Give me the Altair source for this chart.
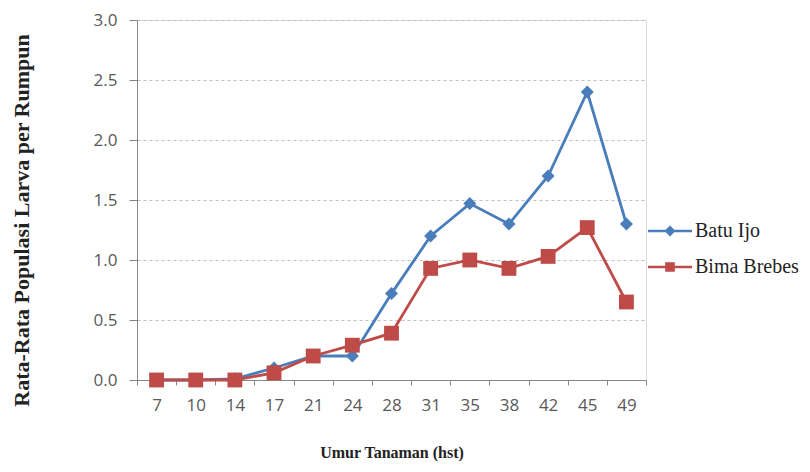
import altair as alt
import pandas as pd

umur = ["7", "10", "14", "17", "21", "24", "28", "31", "35", "38", "42", "45", "49"]
batu_ijo = [0.0, 0.0, 0.01, 0.10, 0.20, 0.20, 0.72, 1.20, 1.47, 1.30, 1.70, 2.40, 1.30]
bima_brebes = [0.0, 0.0, 0.0, 0.06, 0.20, 0.29, 0.39, 0.93, 1.00, 0.93, 1.03, 1.27, 0.65]
series = ["Batu Ijo", "Bima Brebes"]
colors = ["#4A7EBB", "#BE4B48"]
shapes = ["diamond", "square"]
y_ticks = [0, 0.5, 1.0, 1.5, 2.0, 2.5, 3.0]

legend_paths = [
    "M-1,-0.055H1V0.055H-1Z M-0.25,0L0,-0.25L0.25,0L0,0.25Z",
    "M-1,-0.055H1V0.055H-1Z M-0.22,-0.22H0.22V0.22H-0.22Z",
]

x = alt.X(
    "umur:O",
    sort=umur,
    bandPosition=0.5,
    scale=alt.Scale(type="band", paddingInner=0, paddingOuter=0),
    axis=alt.Axis(
        title="Umur Tanaman (hst)",
        labelAngle=0,
        tickBand="extent",
        tickSize=5,
        tickColor="#868686",
        domainColor="#868686",
        labelFont="Open Sans",
        labelFontSize=17,
        labelColor="#595959",
        labelPadding=12,
        titleFont="Liberation Serif",
        titleFontSize=16,
        titleFontWeight="bold",
        titleColor="#222222",
        titlePadding=31,
        grid=False,
    ),
)
y = alt.Y(
    "nilai:Q",
    scale=alt.Scale(domain=[0, 3], nice=False),
    axis=alt.Axis(
        title="Rata-Rata Populasi Larva per Rumpun",
        values=y_ticks,
        format=".1f",
        tickSize=8,
        tickColor="#868686",
        domainColor="#868686",
        labelFont="Open Sans",
        labelFontSize=17,
        labelColor="#595959",
        labelPadding=12,
        titleFont="Liberation Serif",
        titleFontSize=22,
        titleFontWeight="bold",
        titleColor="#222222",
        titleX=-116,
        titleY=200,
        titleAlign="center",
        titleBaseline="middle",
        titleAngle=270,
        grid=True,
        gridColor="#bfbfbf",
        gridDash=[3, 3],
    ),
)

layers = []
legend_y = [189, 225]
for i, name in enumerate(series):
    vals = batu_ijo if i == 0 else bima_brebes
    df = pd.DataFrame({"umur": umur, "nilai": vals, "seri": name})
    line = alt.Chart(df).mark_line(color=colors[i], strokeWidth=2.8).encode(x=x, y=y)
    pts = alt.Chart(df).mark_point(
        shape=shapes[i], filled=True, opacity=1, size=170 if i == 0 else 220
    ).encode(
        x=x,
        y=y,
        color=alt.Color(
            "seri:N",
            scale=alt.Scale(domain=[name], range=[colors[i]]),
            legend=alt.Legend(
                title=None,
                orient="none",
                legendX=511,
                legendY=legend_y[i],
                symbolType=legend_paths[i],
                symbolSize=1936,
                symbolStrokeWidth=0,
                symbolOpacity=1,
                labelFont="Liberation Serif",
                labelFontSize=20,
                labelColor="#222222",
                labelOffset=3,
            ),
        ),
    )
    layers += [line, pts]

chart = (
    alt.layer(*layers)
    .resolve_scale(color="independent")
    .resolve_legend(color="independent")
    .properties(
        width=509,
        height=360,
        autosize=alt.AutoSizeParams(type="none"),
        padding={"left": 129, "top": 12, "right": 156, "bottom": 84},
    )
    .configure_view(stroke="#d9d9d9")
    .configure_legend(labelFont="Liberation Serif", labelFontSize=20, labelColor="#222222")
    .configure(background="white")
)

chart.save("out.html", embed_options={"renderer": "svg", "actions": False})
